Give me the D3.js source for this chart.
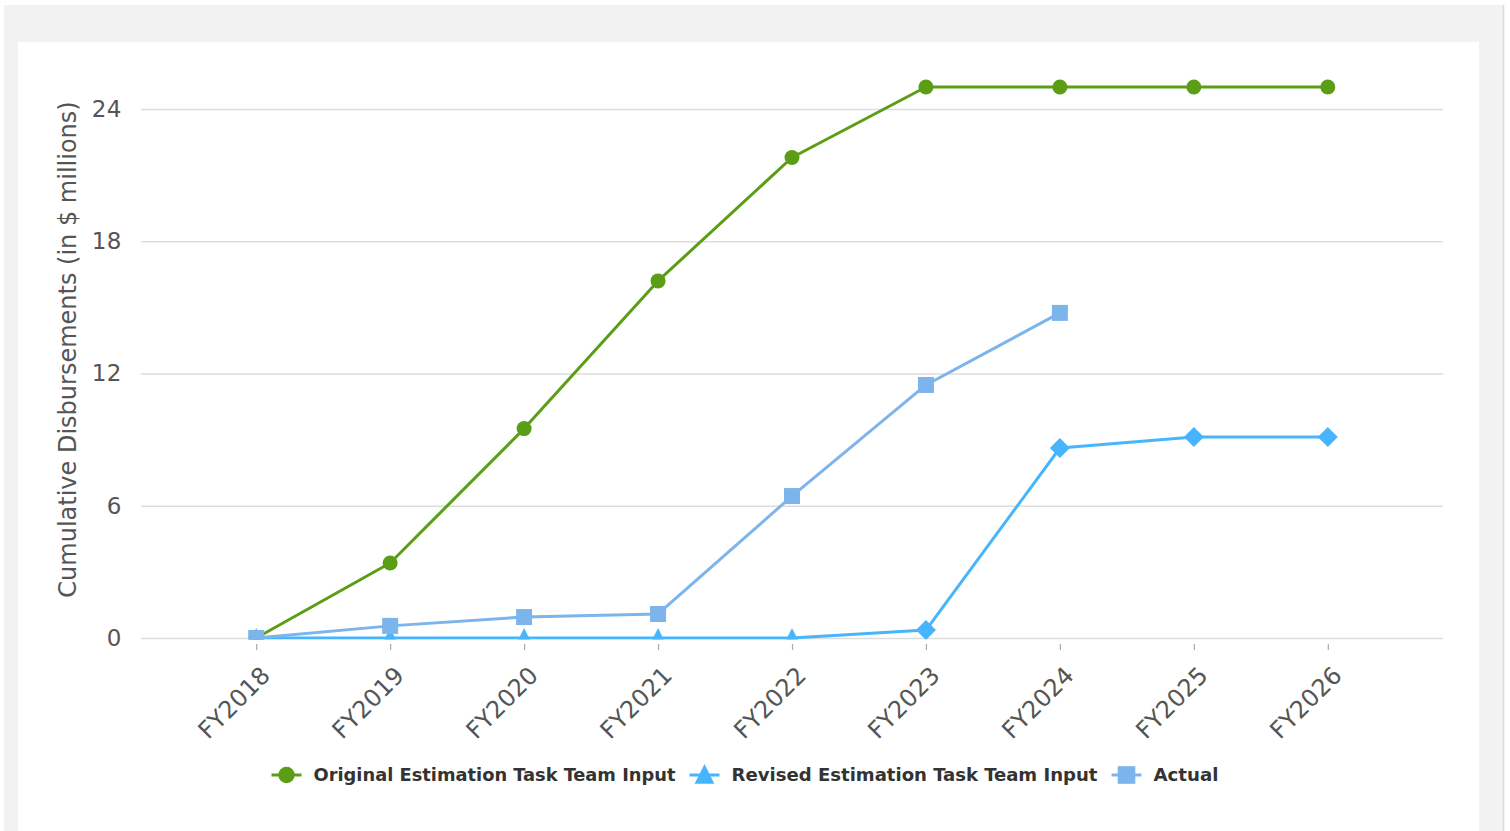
<!DOCTYPE html>
<html>
<head>
  <meta charset="UTF-8">
  <script src="https://d3js.org/d3.v7.js"></script>
  <style>
    body { margin: 0; background: #fff; }
    text { font-family: "DejaVu Sans", Verdana, sans-serif; }
  </style>
</head>
<body>
  <div id="chart"></div>
  <script>
    // data

    const years = ["FY2018", "FY2019", "FY2020", "FY2021", "FY2022", "FY2023", "FY2024", "FY2025", "FY2026"];
    const original = [0, 3.4, 9.5, 16.2, 21.8, 25, 25, 25, 25];
    const revised = [0, 0, 0, 0, 0, 0.36, 8.62, 9.12, 9.12];
    const actual = [0, 0.55, 0.95, 1.09, 6.44, 11.48, 14.75];
    const yTicks = [0, 6, 12, 18, 24];

    const series = [
      { name: "Original Estimation Task Team Input", values: original, color: "#5b9e16", symbol: "circle", legendWidth: 362 },
      { name: "Revised Estimation Task Team Input", values: revised, color: "#47b5fd", symbol: "triangle", legendWidth: 366 },
      { name: "Actual", values: actual, color: "#7cb5ec", symbol: "square", legendWidth: 65 }
    ];

    // set up

    const W = 1510, H = 831;
    const plot = { left: 141, right: 1443, top: 109, bottom: 638 };

    const svg = d3.select('#chart')
      .append('svg')
        .attr('width', W)
        .attr('height', H);

    // page frame
    svg.append('rect').attr('x', 4).attr('y', 5).attr('width', 1500).attr('height', H - 5).attr('fill', '#f2f2f2');
    svg.append('line').attr('x1', 1503.5).attr('x2', 1503.5).attr('y1', 5).attr('y2', H)
        .attr('stroke', '#dcdcdc').attr('stroke-width', 1.5);
    svg.append('rect').attr('x', 18).attr('y', 42).attr('width', 1461).attr('height', H - 42).attr('fill', '#fff');

    // scales

    const x = d3.scalePoint()
        .domain(years)
        .range([plot.left, plot.right])
        .padding(0.86);

    const y = d3.scaleLinear()
        .domain([0, 24])
        .range([plot.bottom, plot.top]);

    // grid + axes

    svg.append('g')
        .attr('transform', `translate(${plot.left},0)`)
        .call(d3.axisLeft(y).tickValues(yTicks).tickSize(-(plot.right - plot.left)).tickPadding(19))
        .call(g => g.select('.domain').remove())
        .call(g => g.selectAll('.tick line').attr('stroke', '#dddddd').attr('stroke-width', 1.5))
        .call(g => g.selectAll('.tick text')
          .attr('fill', '#555').attr('font-size', 23).attr('letter-spacing', 0.5)
          .style('font-family', '"DejaVu Sans", sans-serif'));

    svg.append('g')
        .attr('transform', `translate(0,${plot.bottom + 6})`)
        .call(d3.axisBottom(x).tickSize(6).tickPadding(6))
        .call(g => g.select('.domain').remove())
        .call(g => g.selectAll('.tick line').attr('stroke', '#aaa').attr('stroke-width', 1.2))
        .call(g => g.selectAll('.tick text')
          .attr('fill', '#555').attr('font-size', 24)
          .style('font-family', '"DejaVu Sans", sans-serif')
          .attr('text-anchor', 'end')
          .attr('x', 0).attr('y', 0)
          .attr('dy', '0.35em')
          .attr('transform', 'translate(9,27) rotate(-45)'));

    svg.append('text')
        .attr('transform', `translate(76,${(plot.top + plot.bottom) / 2 - 24}) rotate(-90)`)
        .attr('text-anchor', 'middle')
        .attr('fill', '#555')
        .attr('font-size', 24)
        .text('Cumulative Disbursements (in $ millions)');

    // symbols

    function marker(sel, symbol, color, big) {
      const k = big ? 1.1 : 1;
      if (symbol === 'circle') {
        sel.append('circle').attr('r', 7.5 * k).attr('fill', color);
      } else if (symbol === 'square') {
        sel.append('rect').attr('x', -8 * k).attr('y', -8 * k).attr('width', 16 * k).attr('height', 16 * k).attr('fill', color);
      } else if (symbol === 'triangle') {
        sel.append('path').attr('d', `M0,${-10 * k}L${9 * k},${8 * k}L${-9 * k},${8 * k}Z`).attr('fill', color);
      } else if (symbol === 'diamond') {
        sel.append('path').attr('d', 'M0,-10L10,0L0,10L-10,0Z').attr('fill', color);
      }
    }

    // lines

    svg.append('clipPath').attr('id', 'clip')
      .append('rect')
        .attr('x', plot.left - 40).attr('y', 0)
        .attr('width', plot.right - plot.left + 80).attr('height', plot.bottom + 1.5);

    const g = svg.append('g').attr('clip-path', 'url(#clip)');

    const line = d3.line()
        .x((d, i) => x(years[i]))
        .y(d => y(d));

    series.forEach(s => {
      g.append('path')
          .datum(s.values)
          .attr('fill', 'none')
          .attr('stroke', s.color)
          .attr('stroke-width', 3)
          .attr('stroke-linejoin', 'round')
          .attr('d', line);

      s.values.forEach((v, i) => {
        // the revised series switches to diamond markers once disbursements start
        let sym = s.symbol;
        if (s.symbol === 'triangle' && v > 0) sym = 'diamond';
        const m = g.append('g').attr('transform', `translate(${x(years[i])},${y(v)})`);
        marker(m, sym, s.color);
      });
    });

    // legend

    const legend = svg.append('g').attr('transform', 'translate(0,775)');
    const items = legend.selectAll('g')
      .data(series)
      .join('g');

    items.append('line')
        .attr('x1', 0).attr('x2', 30)
        .attr('stroke', d => d.color).attr('stroke-width', 3);
    items.each(function(d) {
      const m = d3.select(this).append('g').attr('transform', 'translate(15,0)');
      marker(m, d.symbol, d.color, true);
    });
    items.append('text')
        .attr('x', 42)
        .attr('dy', '0.35em')
        .attr('fill', '#333')
        .attr('font-size', 17)
        .attr('font-weight', 'bold')
        .attr('textLength', d => d.legendWidth)
        .attr('lengthAdjust', 'spacingAndGlyphs')
        .style('font-family', '"DejaVu Sans Condensed", "DejaVu Sans", sans-serif')
        .text(d => d.name);

    // lay legend out side by side, centred on the plot
    let pos = 0;
    const offs = [];
    items.each(function(d) {
      offs.push(pos);
      pos += 42 + d.legendWidth + 14;
    });
    const total = pos - 14;
    const start = 272 + ((1218 - 272) - total) / 2;
    items.attr('transform', (d, i) => `translate(${start + offs[i]},0)`);
  </script>
</body>
</html>
